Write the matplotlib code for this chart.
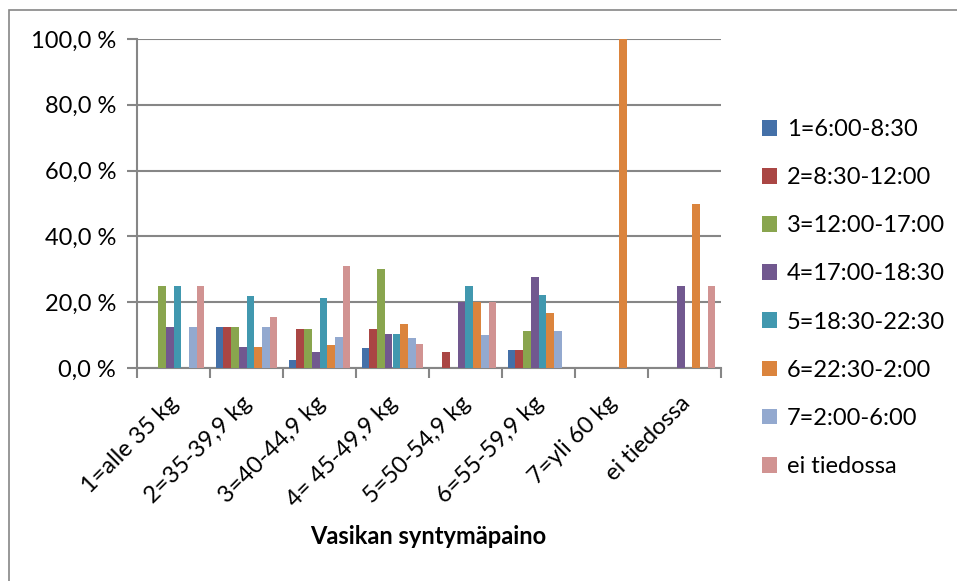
import matplotlib.pyplot as plt
import numpy as np
from matplotlib.patches import Rectangle
from matplotlib.ticker import FuncFormatter

plt.rcParams['font.family'] = ['Lato', 'DejaVu Sans']

categories = ['1=alle 35 kg', '2=35-39,9 kg', '3=40-44,9 kg', '4= 45-49,9 kg',
              '5=50-54,9 kg', '6=55-59,9 kg', '7=yli 60 kg', 'ei tiedossa']
series = ['1=6:00-8:30', '2=8:30-12:00', '3=12:00-17:00', '4=17:00-18:30',
          '5=18:30-22:30', '6=22:30-2:00', '7=2:00-6:00', 'ei tiedossa']
colors = ['#4470A8', '#AA4644', '#89A54E', '#71588F',
          '#4198AF', '#DB843D', '#93A9CF', '#D19392']

# percent values, one list per series (across the 8 weight classes)
s1 = [0, 12.5, 2.4, 6.0, 0, 5.6, 0, 0]
s2 = [0, 12.5, 11.9, 12.0, 5.0, 5.6, 0, 0]
s3 = [25.0, 12.5, 11.9, 30.0, 0, 11.1, 0, 0]
s4 = [12.5, 6.25, 4.8, 10.4, 20.0, 27.8, 0, 25.0]
s5 = [25.0, 21.9, 21.4, 10.4, 25.0, 22.2, 0, 0]
s6 = [0, 6.25, 7.1, 13.5, 20.0, 16.7, 100.0, 50.0]
s7 = [12.5, 12.5, 9.5, 9.0, 10.0, 11.1, 0, 0]
s8 = [25.0, 15.6, 31.0, 7.4, 20.0, 0, 0, 25.0]
values = [s1, s2, s3, s4, s5, s6, s7, s8]

FS = 17

fig = plt.figure(figsize=(9.57, 5.81), dpi=100)
W, H = 957, 581
ax = fig.add_axes([137 / W, 1 - 368 / H, (721 - 137) / W, (368 - 39) / H])

# outer chart border
fig.patches.append(Rectangle((9 / W, -0.1), 1.2, 1 - 10 / H + 0.1, transform=fig.transFigure,
                             fill=False, edgecolor='#868686', linewidth=1.2))

n = len(series)
bw = 1 / (n + 1.5)
x = np.arange(len(categories))
for i, (name, vals) in enumerate(zip(series, values)):
    pos = x - 0.5 + 0.75 * bw + (i + 0.5) * bw
    ax.bar(pos, vals, width=bw, color=colors[i], label=name, zorder=3)

ax.set_xlim(-0.5, len(categories) - 0.5)
ax.set_ylim(0, 100)
ax.set_yticks(np.arange(0, 101, 20))
ax.yaxis.set_major_formatter(FuncFormatter(lambda v, p: f'{v:.1f} %'.replace('.', ',')))
ax.grid(axis='y', color='#868686', linewidth=1.5, zorder=0)
for s in ['top', 'right']:
    ax.spines[s].set_visible(False)
for s in ['left', 'bottom']:
    ax.spines[s].set_color('#868686')
    ax.spines[s].set_linewidth(1.5)
ax.tick_params(axis='y', colors='#868686', length=7, width=1.5, labelcolor='black',
               labelsize=FS, pad=8)

# category boundary ticks
ax.set_xticks(np.arange(len(categories) + 1) - 0.5)
ax.set_xticklabels([])
ax.tick_params(axis='x', colors='#868686', length=7, width=1.5)
for xi, lab in zip(x, categories):
    ax.annotate(lab, xy=(xi, 0), xycoords=('data', 'axes fraction'),
                xytext=(2, -32), textcoords='offset pixels', rotation=45,
                rotation_mode='anchor', ha='right', va='center', fontsize=FS)

fig.text(428 / W, 1 - 537 / H, 'Vasikan syntymäpaino', ha='center', va='center',
         fontsize=FS, fontweight='bold')

ax.legend(loc='center left', bbox_to_anchor=(762 / W, 1 - 298 / H),
          bbox_transform=fig.transFigure, frameon=False, fontsize=FS,
          handlelength=0.65, handleheight=0.65, handletextpad=0.4, labelspacing=1.15,
          borderaxespad=0, borderpad=0)

fig.savefig('out.png', dpi=100)
